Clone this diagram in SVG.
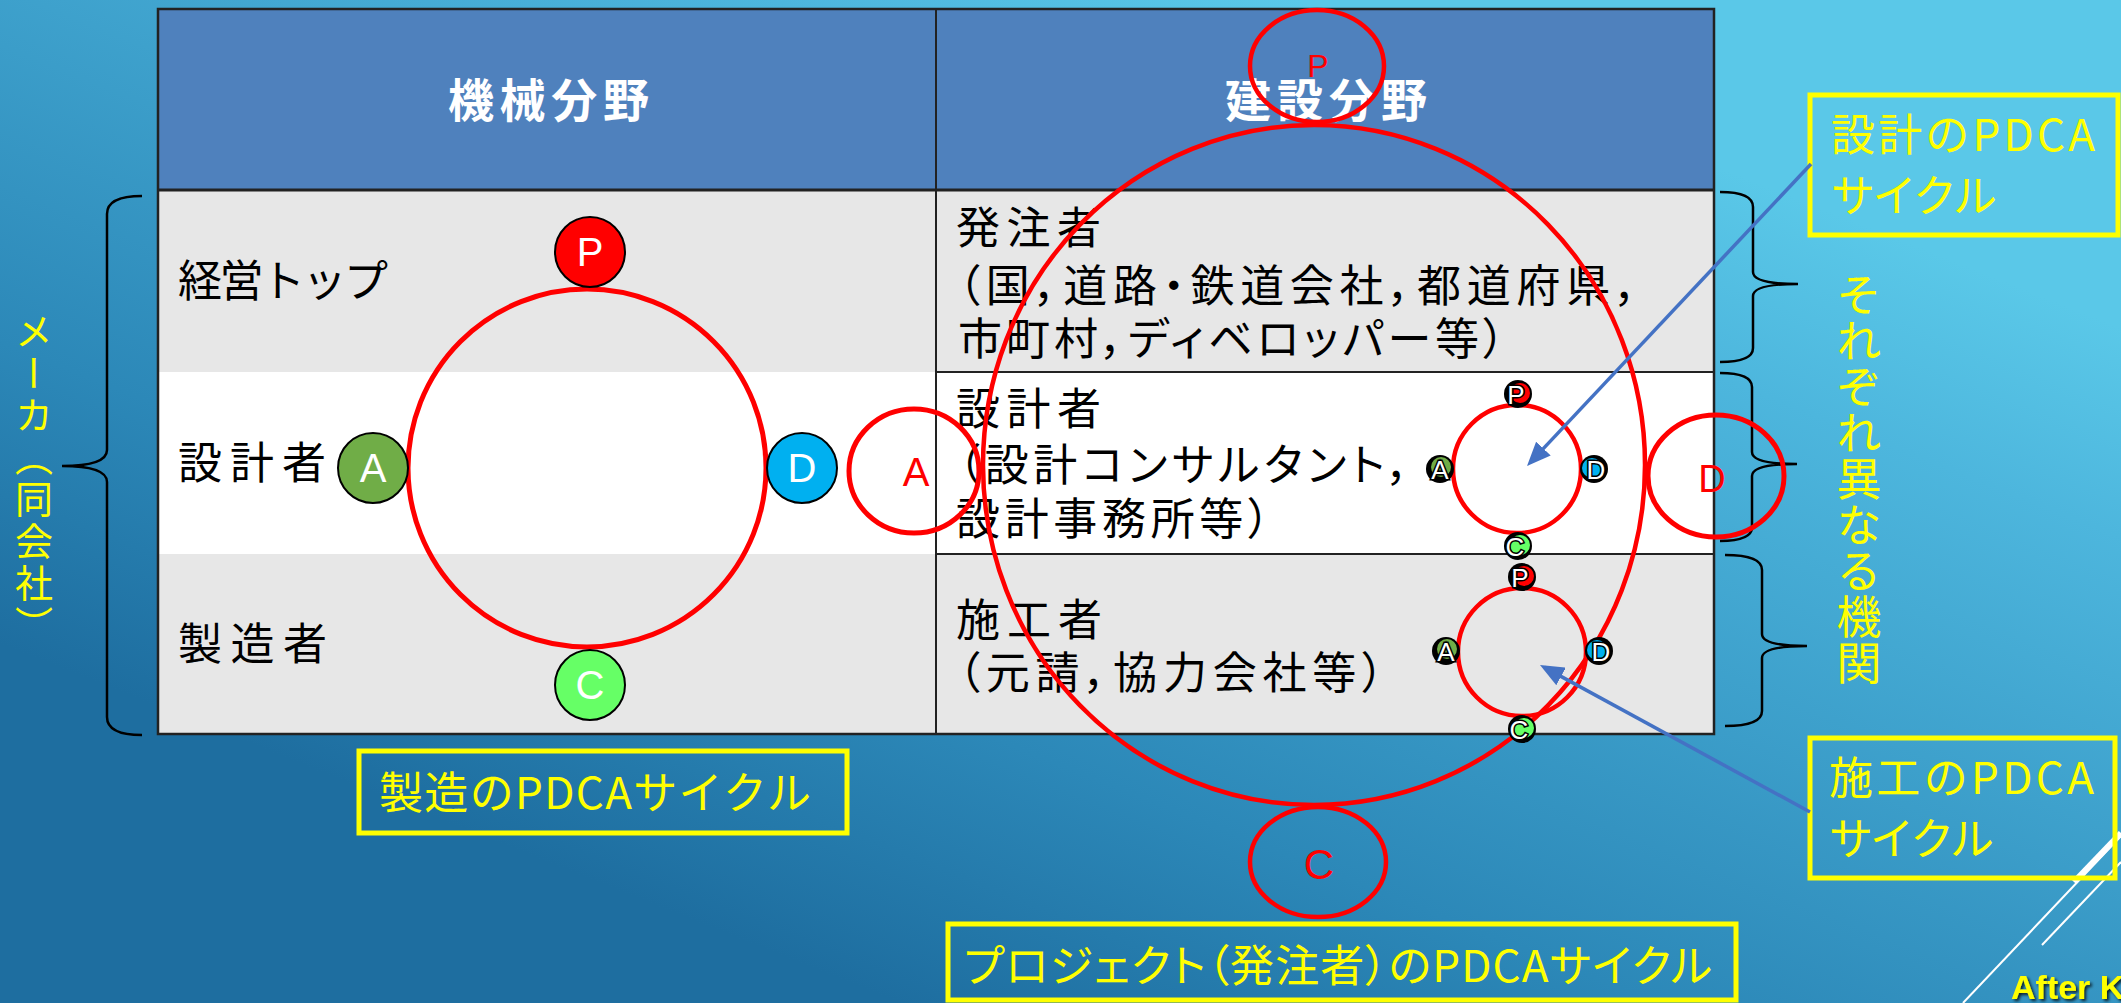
<svg xmlns="http://www.w3.org/2000/svg" width="2121" height="1003" viewBox="0 0 2121 1003">
<defs>
  <linearGradient id="bg" gradientUnits="userSpaceOnUse" x1="1300" y1="0" x2="900" y2="1003">
    <stop offset="0" stop-color="#5AC8E8"/>
    <stop offset="0.18" stop-color="#4DB6DD"/>
    <stop offset="0.74" stop-color="#2C88B8"/>
    <stop offset="1" stop-color="#1E6EA0"/>
  </linearGradient>
  <marker id="ah" markerWidth="25" markerHeight="20" refX="19" refY="10" orient="auto" markerUnits="userSpaceOnUse">
    <path d="M0,0 L24,10 L0,20 Z" fill="#4472C4"/>
  </marker>
  <filter id="sh" x="-10%" y="-20%" width="130%" height="160%">
    <feDropShadow dx="2" dy="2" stdDeviation="1.5" flood-color="#000" flood-opacity="0.8"/>
  </filter>
  <style>
    .cell{font-family:"Noto Sans CJK JP","Noto Sans CJK SC",sans-serif;font-size:44px;fill:#000;}
    .palt{font-feature-settings:"palt";}
    .head{font-family:"Noto Sans CJK JP","Noto Sans CJK SC",sans-serif;font-size:46px;font-weight:bold;fill:#fff;text-anchor:start;}
    .ylw{font-family:"Noto Sans CJK JP","Noto Sans CJK SC",sans-serif;font-size:44px;fill:#FFFF00;}
    .vert{font-family:"Noto Sans CJK JP","Noto Sans CJK SC",sans-serif;fill:#FFFF00;writing-mode:vertical-rl;}
    .ybox{fill:none;stroke:#FFFF00;stroke-width:5;}
    .ring{fill:none;stroke:#FF0000;stroke-width:5;}
    .ring4{fill:none;stroke:#FF0000;stroke-width:4.5;}
    .dot{stroke:#000;stroke-width:2;}
    .lt{font-family:"Liberation Sans Narrow","Liberation Sans",sans-serif;text-anchor:middle;}
    .wl{fill:#fff;font-size:40px;}
    .rl{fill:#FF0000;}
    .mini{font-family:"Liberation Sans",sans-serif;font-size:26px;fill:#fff;stroke:#000;stroke-width:3;paint-order:stroke;text-anchor:middle;}
    .brace{fill:none;stroke:#000;stroke-width:2.5;}
    .grid{stroke:#222;fill:none;}
    .arrow{stroke:#4472C4;stroke-width:3.5;fill:none;marker-end:url(#ah);}
    .deco{stroke:#fff;fill:none;}
  </style>
</defs>

<rect x="0" y="0" width="2121" height="1003" fill="url(#bg)"/>

<g id="decoration">
  <line class="deco" x1="1963" y1="1003" x2="2121" y2="836" stroke-width="2"/>
  <line class="deco" x1="2042" y1="945" x2="2121" y2="862" stroke-width="2"/>
  <line class="deco" x1="2074" y1="882" x2="2121" y2="833" stroke-width="6"/>
</g>

<g id="table">
  <rect x="158" y="9" width="1556" height="181" fill="#4F81BD"/>
  <rect x="158" y="190" width="1556" height="182" fill="#E7E7E7"/>
  <rect x="158" y="372" width="1556" height="182" fill="#FFFFFF"/>
  <rect x="158" y="554" width="1556" height="180" fill="#E7E7E7"/>
  <line class="grid" x1="158" y1="190" x2="1714" y2="190" stroke-width="3"/>
  <line class="grid" x1="936" y1="372" x2="1714" y2="372" stroke-width="2"/>
  <line class="grid" x1="936" y1="554" x2="1714" y2="554" stroke-width="2"/>
  <line class="grid" x1="936" y1="9" x2="936" y2="734" stroke-width="2"/>
  <rect class="grid" x="158" y="9" width="1556" height="725" stroke-width="2.5"/>
  <text class="head" x="448" y="117" textLength="201" lengthAdjust="spacing">機械分野</text>
  <text class="head" x="1225" y="117" textLength="202" lengthAdjust="spacing">建設分野</text>
  <text class="cell" x="178" y="297" textLength="210" lengthAdjust="spacing">経営トップ</text>
  <text class="cell" x="178" y="479" textLength="148" lengthAdjust="spacing">設計者</text>
  <text class="cell" x="178" y="660" textLength="149" lengthAdjust="spacing">製造者</text>
  <text class="cell" x="956" y="244" textLength="145" lengthAdjust="spacing">発注者</text>
  <text class="cell palt" x="958" y="302" textLength="680" lengthAdjust="spacing">（国，道路・鉄道会社，都道府県，</text>
  <text class="cell palt" x="958" y="355" textLength="547" lengthAdjust="spacing">市町村，ディベロッパー等）</text>
  <text class="cell" x="956" y="425" textLength="145" lengthAdjust="spacing">設計者</text>
  <text class="cell palt" x="958" y="481" textLength="452" lengthAdjust="spacing">（設計コンサルタント，</text>
  <text class="cell palt" x="956" y="535" textLength="314" lengthAdjust="spacing">設計事務所等）</text>
  <text class="cell" x="956" y="636" textLength="146" lengthAdjust="spacing">施工者</text>
  <text class="cell palt" x="958" y="689" textLength="426" lengthAdjust="spacing">（元請，協力会社等）</text>
</g>

<g id="brace-maker">
  <path class="brace" d="M142,196 Q107,196 107,214 L107,450 Q107,466 62,466 Q107,466 107,482 L107,717 Q107,735 142,735"/>
  <text class="vert" x="34" y="312" font-size="38" letter-spacing="4">メーカ（同会社）</text>
</g>
<g id="brace-orgs">
  <path class="brace" d="M1720,192 Q1753,192 1753,207 L1753,272 Q1753,284 1798,284 Q1753,284 1753,296 L1753,348 Q1753,362 1720,362"/>
  <path class="brace" d="M1720,373 Q1752,373 1752,387 L1752,452 Q1752,464 1797,464 Q1752,464 1752,476 L1752,527 Q1752,541 1720,541"/>
  <path class="brace" d="M1725,555 Q1762,555 1762,570 L1762,634 Q1762,646 1807,646 Q1762,646 1762,658 L1762,711 Q1762,726 1725,726"/>
  <text class="vert" x="1859" y="272" font-size="45" letter-spacing="1">それぞれ異なる機関</text>
</g>

<g id="mfg-cycle">
  <circle class="ring" cx="587" cy="468" r="179"/>
  <g id="mfg-P"><circle class="dot" cx="590" cy="252" r="35" fill="#FF0000"/><text class="lt wl" x="590" y="266">P</text></g>
  <g id="mfg-A"><circle class="dot" cx="373" cy="468" r="35" fill="#70AD47"/><text class="lt wl" x="373" y="482">A</text></g>
  <g id="mfg-D"><circle class="dot" cx="802" cy="468" r="35" fill="#00B0F0"/><text class="lt wl" x="802" y="482">D</text></g>
  <g id="mfg-C"><circle class="dot" cx="590" cy="685" r="35" fill="#66FF66"/><text class="lt wl" x="590" y="699">C</text></g>
</g>

<g id="project-cycle">
  <ellipse class="ring4" cx="1314" cy="465" rx="331" ry="340"/>
  <g id="proj-P"><ellipse class="ring4" cx="1317" cy="66" rx="67" ry="56"/><text class="lt rl" x="1318" y="77" font-size="32">P</text></g>
  <g id="proj-A"><ellipse class="ring" cx="914" cy="471" rx="65" ry="62"/><text class="lt rl" x="916" y="486" font-size="40">A</text></g>
  <g id="proj-D"><ellipse class="ring" cx="1716" cy="476" rx="68" ry="61"/><text class="lt rl" x="1712" y="492" font-size="38">D</text></g>
  <g id="proj-C"><ellipse class="ring4" cx="1318" cy="862" rx="68" ry="55"/><text class="lt rl" x="1319" y="879" font-size="42">C</text></g>
</g>

<g id="design-cycle">
  <circle class="ring4" cx="1517" cy="469" r="64"/>
  <g id="des-P"><circle cx="1518" cy="394" r="14" fill="#000"/><circle cx="1520" cy="393" r="10" fill="#FF0000"/><text class="mini" x="1516" y="404">P</text></g>
  <g id="des-A"><circle cx="1440" cy="469" r="14" fill="#000"/><circle cx="1441" cy="467" r="10" fill="#70AD47"/><text class="mini" x="1440" y="479">A</text></g>
  <g id="des-D"><circle cx="1594" cy="469" r="14" fill="#000"/><circle cx="1592" cy="468" r="10" fill="#00B0F0"/><text class="mini" x="1596" y="479">D</text></g>
  <g id="des-C"><circle cx="1518" cy="546" r="14" fill="#000"/><circle cx="1520" cy="545" r="10" fill="#66FF66"/><text class="mini" x="1515" y="556">C</text></g>
</g>

<g id="construction-cycle">
  <circle class="ring4" cx="1522" cy="652" r="64"/>
  <g id="con-P"><circle cx="1522" cy="577" r="14" fill="#000"/><circle cx="1524" cy="576" r="10" fill="#FF0000"/><text class="mini" x="1520" y="587">P</text></g>
  <g id="con-A"><circle cx="1446" cy="651" r="14" fill="#000"/><circle cx="1447" cy="649" r="10" fill="#70AD47"/><text class="mini" x="1446" y="661">A</text></g>
  <g id="con-D"><circle cx="1599" cy="651" r="14" fill="#000"/><circle cx="1597" cy="650" r="10" fill="#00B0F0"/><text class="mini" x="1601" y="661">D</text></g>
  <g id="con-C"><circle cx="1522" cy="729" r="14" fill="#000"/><circle cx="1524" cy="728" r="10" fill="#66FF66"/><text class="mini" x="1519" y="739">C</text></g>
</g>

<g id="box-design">
  <rect class="ybox" x="1810" y="95" width="308" height="140"/>
  <text class="ylw" x="1831" y="151" textLength="264" lengthAdjust="spacing">設計のPDCA</text>
  <text class="ylw" x="1831" y="212" textLength="166" lengthAdjust="spacing">サイクル</text>
</g>
<g id="box-construction">
  <rect class="ybox" x="1810" y="738" width="305" height="140"/>
  <text class="ylw" x="1829" y="794" textLength="265" lengthAdjust="spacing">施工のPDCA</text>
  <text class="ylw" x="1829" y="855" textLength="165" lengthAdjust="spacing">サイクル</text>
</g>
<g id="box-mfg">
  <rect class="ybox" x="359" y="751" width="488" height="82"/>
  <text class="ylw" x="379" y="809" textLength="432" lengthAdjust="spacing">製造のPDCAサイクル</text>
</g>
<g id="box-project">
  <rect class="ybox" x="948" y="924" width="788" height="76"/>
  <text class="ylw palt" x="964" y="982" textLength="748" lengthAdjust="spacing">プロジェクト（発注者）のPDCAサイクル</text>
</g>

<g id="connectors">
  <line class="arrow" x1="1811" y1="164" x2="1530.4" y2="462.4"/>
  <line class="arrow" x1="1810" y1="812" x2="1544.4" y2="667.4"/>
</g>

<text x="2011" y="999" font-family="Liberation Sans, sans-serif" font-size="34" font-weight="bold" fill="#FFFF00" filter="url(#sh)">After K</text>
</svg>
